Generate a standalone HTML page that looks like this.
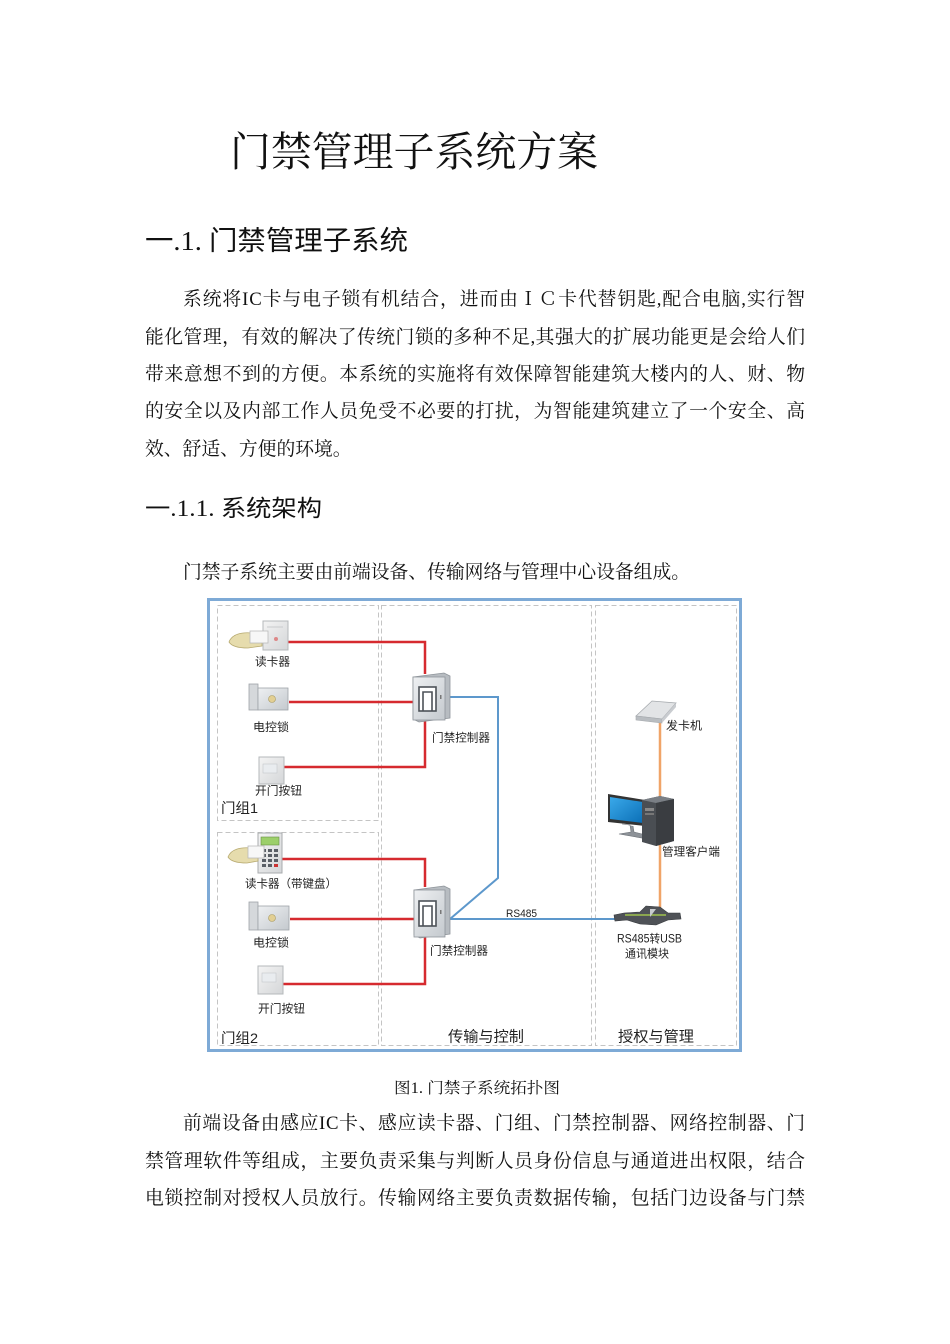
<!DOCTYPE html>
<html><head><meta charset="utf-8">
<style>
html,body{margin:0;padding:0;background:#fff;}
body{width:950px;height:1344px;overflow:hidden;position:relative;}
svg{position:absolute;left:0;top:0;}
.b{font-family:"Liberation Serif","Noto Serif CJK SC",serif;font-size:18.8px;fill:#111;}
.h{font-family:"Liberation Serif","Noto Sans CJK SC",sans-serif;fill:#111;}
.d{font-family:"Liberation Sans","Noto Sans CJK SC",sans-serif;fill:#222;}
</style></head>
<body>
<svg width="950" height="1344" viewBox="0 0 950 1344" xmlns="http://www.w3.org/2000/svg">
<defs>
<linearGradient id="cg" x1="0" y1="0" x2="1" y2="1">
<stop offset="0" stop-color="#eef0f2"/><stop offset="1" stop-color="#c4c9ce"/>
</linearGradient>
<linearGradient id="pg" x1="0" y1="0" x2="1" y2="1">
<stop offset="0" stop-color="#f4f4f4"/><stop offset="1" stop-color="#d4d6d8"/>
</linearGradient>
<linearGradient id="sg" x1="0" y1="0" x2="1" y2="1">
<stop offset="0" stop-color="#3aa9ea"/><stop offset="1" stop-color="#0b6fb6"/>
</linearGradient>
</defs>

<!-- Title -->
<text x="230" y="166" font-family="'Liberation Serif','Noto Serif CJK SC',serif" font-size="41" fill="#111" textLength="368" lengthAdjust="spacingAndGlyphs">门禁管理子系统方案</text>

<!-- H1 -->
<text class="h" x="145" y="250" font-size="27" textLength="263" lengthAdjust="spacingAndGlyphs">一.1. 门禁管理子系统</text>

<!-- Paragraph 1 -->
<text class="b" x="183" y="305" textLength="622" lengthAdjust="spacing">系统将IC卡与电子锁有机结合，进而由ＩＣ卡代替钥匙,配合电脑,实行智</text>
<text class="b" x="145" y="343" textLength="660" lengthAdjust="spacing">能化管理，有效的解决了传统门锁的多种不足,其强大的扩展功能更是会给人们</text>
<text class="b" x="145" y="380" textLength="660" lengthAdjust="spacing">带来意想不到的方便。本系统的实施将有效保障智能建筑大楼内的人、财、物</text>
<text class="b" x="145" y="417" textLength="660" lengthAdjust="spacing">的安全以及内部工作人员免受不必要的打扰，为智能建筑建立了一个安全、高</text>
<text class="b" x="145" y="455">效、舒适、方便的环境。</text>

<!-- H2 -->
<text class="h" x="145" y="516" font-size="23" textLength="177" lengthAdjust="spacingAndGlyphs">一.1.1. 系统架构</text>

<text class="b" x="183" y="578" textLength="507" lengthAdjust="spacing">门禁子系统主要由前端设备、传输网络与管理中心设备组成。</text>

<!-- Diagram frame -->
<rect x="208.5" y="599.5" width="532" height="451" fill="none" stroke="#7eaad6" stroke-width="3"/>
<g fill="none" stroke="#c4c4c4" stroke-width="1" stroke-dasharray="5 3">
<rect x="217.5" y="605.5" width="161" height="215"/>
<rect x="217.5" y="832.5" width="161" height="213"/>
<rect x="381.5" y="605.5" width="210" height="440"/>
<rect x="595.5" y="605.5" width="141" height="440"/>
</g>

<!-- Red wires -->
<g fill="none" stroke="#d62a2f" stroke-width="2.5">
<polyline points="288,642 425,642 425,674"/>
<line x1="289" y1="702" x2="413" y2="702"/>
<polyline points="282,767 425,767 425,721"/>
<polyline points="282,859 425,859 425,887"/>
<line x1="290" y1="919" x2="414" y2="919"/>
<polyline points="282,984 425,984 425,937"/>
</g>

<!-- Blue wires -->
<g fill="none" stroke="#5d98cc" stroke-width="2">
<polyline points="450,697 498,697 498,878 450,919"/>
<line x1="450" y1="919" x2="616" y2="919"/>
</g>

<!-- Orange wires -->
<g stroke="#f0a468" stroke-width="2.5">
<line x1="660" y1="718" x2="660" y2="798"/>
<line x1="660" y1="845" x2="660" y2="910"/>
</g>

<!-- Reader 1 -->
<rect x="263" y="621" width="25" height="29" fill="url(#pg)" stroke="#b5b8bb" stroke-width="1"/>
<line x1="267" y1="627" x2="283" y2="627" stroke="#c9cbcd"/>
<circle cx="276" cy="639" r="2" fill="#d88"/>
<path d="M229,642 C232,634 242,632 252,633 L262,634 L262,646 L248,648 C240,648 232,647 229,642 Z" fill="#e6dcad" stroke="#b8ab72" stroke-width="0.8"/>
<rect x="250" y="631" width="18" height="12" fill="#f7f7f7" stroke="#bbb" stroke-width="0.8"/>

<!-- Lock 1 -->
<rect x="249" y="684" width="9" height="26" fill="#d5d8db" stroke="#9ea3a8" stroke-width="0.8"/>
<rect x="258" y="688" width="30" height="22" fill="url(#cg)" stroke="#9ea3a8" stroke-width="0.8"/>
<circle cx="272" cy="699" r="3.5" fill="#e2cf93" stroke="#a89a60" stroke-width="0.6"/>

<!-- Button 1 -->
<rect x="259" y="757" width="25" height="27" fill="url(#pg)" stroke="#b5b8bb" stroke-width="1"/>
<rect x="263" y="764" width="14" height="9" fill="#e9ecef" stroke="#c5c8cb" stroke-width="0.6"/>

<!-- Controller 1 -->
<path d="M413,677 L444,673 L450,676 L450,718 L419,722 L413,719 Z" fill="#b7bcc1" stroke="#8f959b" stroke-width="0.8"/>
<rect x="413" y="677" width="32" height="43" fill="url(#cg)" stroke="#8f959b" stroke-width="0.8"/>
<rect x="419" y="687" width="17" height="24" fill="#fff" stroke="#4d5258" stroke-width="1.6"/>
<path d="M423,711 L423,692 L432,692 L432,711" fill="none" stroke="#4d5258" stroke-width="1.6"/>
<rect x="440" y="695" width="1.5" height="4" fill="#777"/>

<!-- Reader 2 keypad -->
<rect x="258" y="833" width="24" height="40" fill="url(#pg)" stroke="#a8abae" stroke-width="1"/>
<rect x="261" y="837" width="18" height="8" fill="#9ccf6a" stroke="#6a8f45" stroke-width="0.6"/>
<g fill="#5a5f66">
<rect x="262" y="849" width="4" height="3"/><rect x="268" y="849" width="4" height="3"/><rect x="274" y="849" width="4" height="3"/>
<rect x="262" y="854" width="4" height="3"/><rect x="268" y="854" width="4" height="3"/><rect x="274" y="854" width="4" height="3"/>
<rect x="262" y="859" width="4" height="3"/><rect x="268" y="859" width="4" height="3"/><rect x="274" y="859" width="4" height="3"/>
<rect x="262" y="864" width="4" height="3"/><rect x="268" y="864" width="4" height="3"/><rect x="274" y="864" width="4" height="3" fill="#c33"/>
</g>
<path d="M228,857 C231,849 241,847 251,848 L258,849 L258,861 L247,863 C239,863 231,862 228,857 Z" fill="#e6dcad" stroke="#b8ab72" stroke-width="0.8"/>
<rect x="248" y="846" width="16" height="12" fill="#f7f7f7" stroke="#bbb" stroke-width="0.8"/>

<!-- Lock 2 -->
<rect x="249" y="902" width="9" height="28" fill="#d5d8db" stroke="#9ea3a8" stroke-width="0.8"/>
<rect x="258" y="906" width="31" height="24" fill="url(#cg)" stroke="#9ea3a8" stroke-width="0.8"/>
<circle cx="272" cy="918" r="3.5" fill="#e2cf93" stroke="#a89a60" stroke-width="0.6"/>

<!-- Button 2 -->
<rect x="258" y="966" width="25" height="28" fill="url(#pg)" stroke="#b5b8bb" stroke-width="1"/>
<rect x="262" y="973" width="14" height="9" fill="#e9ecef" stroke="#c5c8cb" stroke-width="0.6"/>

<!-- Controller 2 -->
<path d="M414,890 L444,886 L450,889 L450,934 L420,938 L414,935 Z" fill="#b7bcc1" stroke="#8f959b" stroke-width="0.8"/>
<rect x="414" y="890" width="31" height="47" fill="url(#cg)" stroke="#8f959b" stroke-width="0.8"/>
<rect x="419" y="901" width="17" height="25" fill="#fff" stroke="#4d5258" stroke-width="1.6"/>
<path d="M423,926 L423,906 L432,906 L432,926" fill="none" stroke="#4d5258" stroke-width="1.6"/>
<rect x="440" y="910" width="1.5" height="4" fill="#777"/>

<!-- Card issuer -->
<path d="M636,716 L652,701 L676,703 L662,719 Z" fill="#e2e4e6" stroke="#a6aaae" stroke-width="0.8"/>
<path d="M636,716 L662,719 L662,723 L636,720 Z" fill="#b9bdc1" stroke="#a6aaae" stroke-width="0.6"/>
<path d="M662,719 L676,703 L676,707 L662,723 Z" fill="#c9ccd0"/>

<!-- Monitor -->
<path d="M608,794 L645,800 L645,826 L608,822 Z" fill="#333" />
<path d="M610,797 L643,802 L643,823 L610,819 Z" fill="url(#sg)"/>
<path d="M622,824 L630,825 L631,832 L619,834 L642,838 L646,835 L634,832 L633,826" fill="#8d9298" stroke="#6c7177" stroke-width="0.6"/>
<!-- Tower -->
<path d="M642,800 L660,796 L674,799 L674,841 L656,846 L642,842 Z" fill="#4a4e53"/>
<path d="M642,800 L660,796 L674,799 L656,803 Z" fill="#7a7f85"/>
<path d="M656,803 L674,799 L674,841 L656,846 Z" fill="#3a3d41"/>
<rect x="645" y="808" width="9" height="3" fill="#888"/>
<rect x="645" y="813" width="9" height="2" fill="#777"/>

<!-- Module -->
<path d="M614,915 L624,913 L640,912 L646,906 L660,907 L668,913 L680,913 L681,919 L668,920 L656,925 L640,924 L627,920 L615,921 Z" fill="#4f5257" stroke="#36393d" stroke-width="0.6"/>
<path d="M625,915 L666,915" stroke="#9fc24f" stroke-width="1.5"/>
<path d="M650,909 L656,909 L650,917 Z" fill="#c9ccd0"/>

<!-- Diagram labels -->
<g class="d" font-size="11.5">
<text x="255" y="665.5" textLength="35" lengthAdjust="spacingAndGlyphs">读卡器</text>
<text x="253" y="731" textLength="36" lengthAdjust="spacingAndGlyphs">电控锁</text>
<text x="255" y="794.5" textLength="47" lengthAdjust="spacingAndGlyphs">开门按钮</text>
<text x="432" y="741.5" textLength="58" lengthAdjust="spacingAndGlyphs">门禁控制器</text>
<text x="245" y="887.5" textLength="92" lengthAdjust="spacingAndGlyphs">读卡器（带键盘）</text>
<text x="253" y="946.5" textLength="36" lengthAdjust="spacingAndGlyphs">电控锁</text>
<text x="430" y="954.5" textLength="58" lengthAdjust="spacingAndGlyphs">门禁控制器</text>
<text x="258" y="1012.5" textLength="47" lengthAdjust="spacingAndGlyphs">开门按钮</text>
<text x="666" y="729.5" textLength="36" lengthAdjust="spacingAndGlyphs">发卡机</text>
<text x="662" y="855.5" textLength="58" lengthAdjust="spacingAndGlyphs">管理客户端</text>
<text x="617" y="942.5" textLength="65" lengthAdjust="spacingAndGlyphs">RS485转USB</text>
<text x="625" y="957.5" textLength="44" lengthAdjust="spacingAndGlyphs">通讯模块</text>
</g>
<text class="d" x="506" y="917" font-size="11" textLength="31" lengthAdjust="spacingAndGlyphs">RS485</text>
<text class="d" x="221" y="813" font-size="14" textLength="37" lengthAdjust="spacingAndGlyphs">门组1</text>
<text class="d" x="221" y="1043" font-size="14" textLength="37" lengthAdjust="spacingAndGlyphs">门组2</text>
<text class="d" x="448" y="1041.5" font-size="15" textLength="76" lengthAdjust="spacingAndGlyphs">传输与控制</text>
<text class="d" x="618" y="1041.5" font-size="15" textLength="76" lengthAdjust="spacingAndGlyphs">授权与管理</text>

<!-- Caption -->
<text class="b" x="394" y="1093" font-size="15.5" style="font-size:15.5px" textLength="166" lengthAdjust="spacingAndGlyphs">图1. 门禁子系统拓扑图</text>

<!-- Paragraph 2 -->
<text class="b" x="183" y="1129" textLength="622" lengthAdjust="spacing">前端设备由感应IC卡、感应读卡器、门组、门禁控制器、网络控制器、门</text>
<text class="b" x="145" y="1167" textLength="660" lengthAdjust="spacing">禁管理软件等组成，主要负责采集与判断人员身份信息与通道进出权限，结合</text>
<text class="b" x="145" y="1204" textLength="660" lengthAdjust="spacing">电锁控制对授权人员放行。传输网络主要负责数据传输，包括门边设备与门禁</text>
</svg>
</body></html>
